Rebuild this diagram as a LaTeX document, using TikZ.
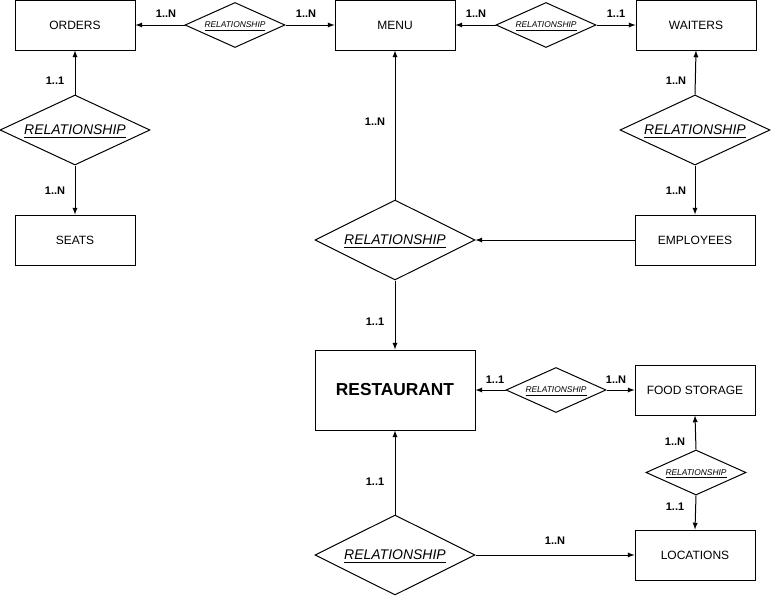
\documentclass[tikz,border=0pt]{standalone}
\usepackage{fontspec}
\setmainfont{Liberation Sans}
\usetikzlibrary{shapes.geometric}

\begin{document}
\begin{tikzpicture}[x=0.75pt, y=-0.75pt, line width=0.75pt,
    entity/.style={draw, rectangle, minimum width=90pt, minimum height=37.5pt, inner sep=0pt, font=\fontsize{9}{10}\selectfont},
    relsmall/.style={draw, diamond, aspect=2.2, inner sep=0pt, text depth=0pt, minimum width=75pt, minimum height=33.75pt, font=\fontsize{6.3}{7}\selectfont\itshape},
    relbig/.style={draw, diamond, aspect=2.2, inner sep=0pt, text depth=0pt, font=\fontsize{10.5}{12}\selectfont\itshape},
    card/.style={font=\fontsize{8.25}{9}\selectfont\bfseries}]
        \useasboundingbox (0,0) rectangle (771,596);
        % entities
        \node[entity] (orders) at (75,25) {ORDERS};
        \node[entity] (menu) at (395,25) {MENU};
        \node[entity] (waiters) at (696,25) {WAITERS};
        \node[entity] (seats) at (75,240) {SEATS};
        \node[entity] (employees) at (695,240) {EMPLOYEES};
        \node[entity, minimum width=120pt, minimum height=60pt, font=\fontsize{13}{15}\selectfont\bfseries] (restaurant) at (395,390) {RESTAURANT};
        \node[entity] (storage) at (695,390) {FOOD STORAGE};
        \node[entity] (locations) at (695,555) {LOCATIONS};
        % relationships
        \node[relsmall] (relordermenu) at (235,25) {\underline{RELATIONSHIP}};
        \node[relsmall] (relmenuwaiter) at (546,25) {\underline{RELATIONSHIP}};
        \node[relbig, minimum width=112.5pt, minimum height=52.5pt] (relseats) at (75,130) {\underline{RELATIONSHIP}};
        \node[relbig, minimum width=112.5pt, minimum height=52.5pt] (relwaiters) at (695,130) {\underline{RELATIONSHIP}};
        \node[relbig, minimum width=120pt, minimum height=60pt] (relmenu) at (395,240) {\underline{RELATIONSHIP}};
        \node[relsmall] (relstorage) at (556,390) {\underline{RELATIONSHIP}};
        \node[relsmall] (relplaces) at (696,472.5) {\underline{RELATIONSHIP}};
        \node[relbig, minimum width=120pt, minimum height=60pt] (rellocations) at (395,555) {\underline{RELATIONSHIP}};
        % connectors
        \draw[->, >=latex] (relordermenu.west) -- (orders.east);
        \draw[->, >=latex] (relordermenu.east) -- (menu.west);
        \draw[->, >=latex] (relmenuwaiter.west) -- (menu.east);
        \draw[->, >=latex] (relmenuwaiter.east) -- (waiters.west);
        \draw[->, >=latex] (relseats.north) -- (orders.south);
        \draw[->, >=latex] (relseats.south) -- (seats.north);
        \draw[->, >=latex] (relwaiters.north) -- (waiters.south);
        \draw[->, >=latex] (relwaiters.south) -- (employees.north);
        \draw[->, >=latex] (relmenu.north) -- (menu.south);
        \draw[->, >=latex] (employees.west) -- (relmenu.east);
        \draw[->, >=latex] (relmenu.south) -- (restaurant.north);
        \draw[->, >=latex] (relstorage.west) -- (restaurant.east);
        \draw[->, >=latex] (relstorage.east) -- (storage.west);
        \draw[->, >=latex] (relplaces.north) -- (storage.south);
        \draw[->, >=latex] (relplaces.south) -- (locations.north);
        \draw[->, >=latex] (rellocations.north) -- (restaurant.south);
        \draw[->, >=latex] (rellocations.east) -- (locations.west);
        % cardinalities
        \node[card] (c1) at (166,14) {1..N};
        \node[card] (c2) at (306,14) {1..N};
        \node[card] (c3) at (476,14) {1..N};
        \node[card] (c4) at (616,14) {1..1};
        \node[card] (c5) at (55,81) {1..1};
        \node[card] (c6) at (55,191) {1..N};
        \node[card] (c7) at (676,81) {1..N};
        \node[card] (c8) at (676,191) {1..N};
        \node[card] (c9) at (375,122) {1..N};
        \node[card] (c10) at (375,322) {1..1};
        \node[card] (c11) at (495,380) {1..1};
        \node[card] (c12) at (616,380) {1..N};
        \node[card] (c13) at (675,442) {1..N};
        \node[card] (c14) at (675,507) {1..1};
        \node[card] (c15) at (375,482) {1..1};
        \node[card] (c16) at (555,541) {1..N};
      \end{tikzpicture}
\end{document}
